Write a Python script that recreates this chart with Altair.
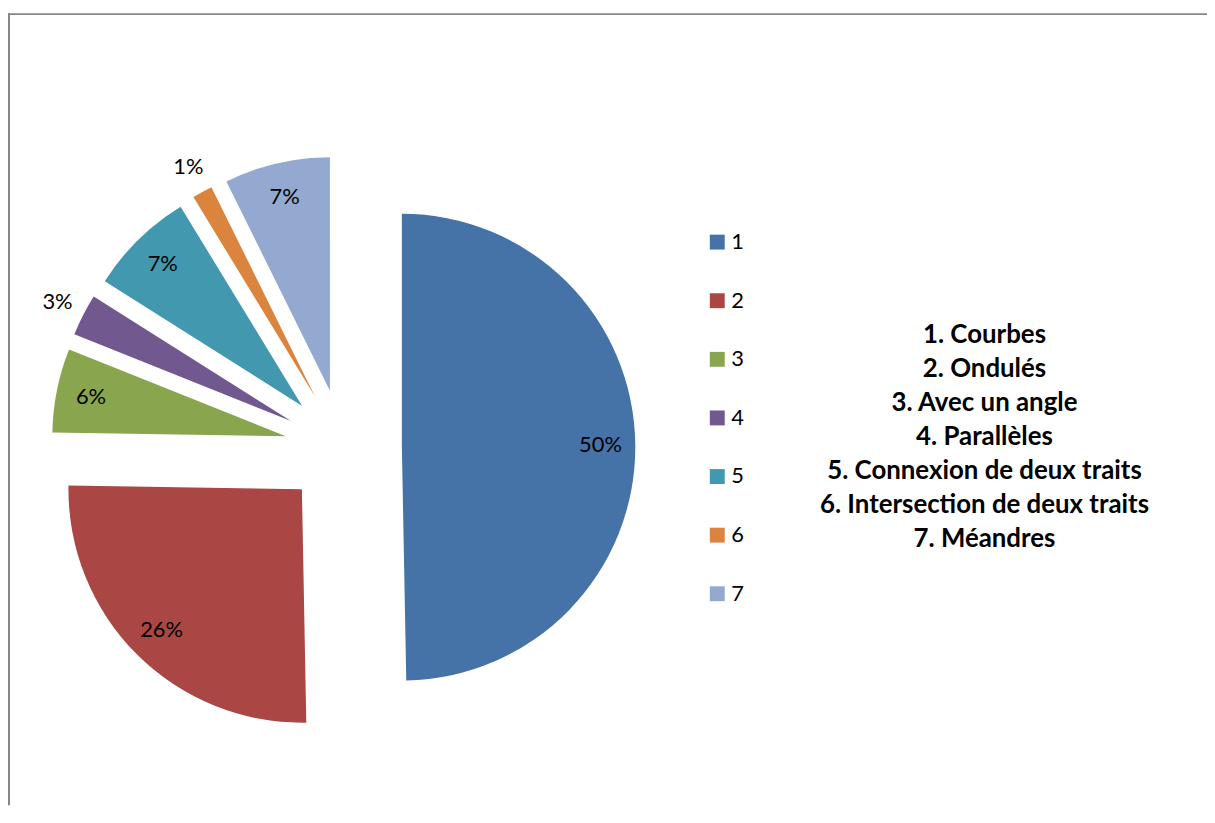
import altair as alt
import pandas as pd

# ---- data (shares in %) ----
categories = ["1", "2", "3", "4", "5", "6", "7"]
values = [49.6, 25.5, 5.8, 2.9, 7.3, 1.4, 7.3]
names = [
    "1. Courbes",
    "2. Ondulés",
    "3. Avec un angle",
    "4. Parallèles",
    "5. Connexion de deux traits",
    "6. Intersection de deux traits",
    "7. Méandres",
]
colors = ["#4572A7", "#AA4643", "#89A54E", "#71588F", "#4198AF", "#DB843D", "#93A9CF"]

# ---- layout / style constants (pixels inside the chart) ----
W, H = 1207, 800
CX, CY = 337.5, 440.0      # pie centre
R = 235                     # pie radius
EXPLODE = 59                # slice explosion distance
R_IN = 200                  # label radius inside slices
R_OUT = 264                 # label radius for small slices
FONT = "Lato"

df = pd.DataFrame({"cat": categories, "value": values, "order": list(range(len(values)))})

base = (
    alt.Chart(df)
    .transform_joinaggregate(total="sum(value)")
    .transform_window(cum="sum(value)", sort=[alt.SortField("order")], frame=[None, 0])
    .transform_calculate(
        start="2*PI*(datum.cum - datum.value)/datum.total",
        end="2*PI*datum.cum/datum.total",
    )
    .transform_calculate(mid="(datum.start + datum.end)/2")
    .transform_calculate(
        cx=f"{CX} + {EXPLODE}*sin(datum.mid)",
        cy=f"{CY} - {EXPLODE}*cos(datum.mid)",
        pct="round(100*datum.value/datum.total) + '%'",
        lr=f"datum.value/datum.total < 0.05 ? {R_OUT} : {R_IN}",
    )
    .transform_calculate(
        lx="datum.cx + datum.lr*sin(datum.mid)",
        ly="datum.cy - datum.lr*cos(datum.mid)",
    )
)

pie = base.mark_arc(outerRadius=R, strokeWidth=0).encode(
    x=alt.X("cx:Q", scale=None, axis=None, stack=None),
    y=alt.Y("cy:Q", scale=None, axis=None, stack=None),
    theta=alt.Theta("start:Q", scale=None, stack=None),
    theta2="end:Q",
    color=alt.Color(
        "cat:N",
        scale=alt.Scale(domain=categories, range=colors),
        legend=alt.Legend(
            title=None,
            orient="none",
            legendX=703,
            legendY=222,
            symbolType="square",
            symbolSize=225,
            symbolStrokeWidth=0,
            symbolOpacity=1,
            labelFontSize=22,
            labelFont=FONT,
            labelColor="#000000",
            labelOffset=3,
            rowPadding=37,
            padding=0,
        ),
    ),
)

labels = base.mark_text(font=FONT, fontSize=22, color="#000000", align="center", baseline="middle").encode(
    x=alt.X("lx:Q", scale=None, axis=None),
    y=alt.Y("ly:Q", scale=None, axis=None),
    text="pct:N",
)

names_block = (
    alt.Chart(pd.DataFrame({"txt": ["\n".join(names)]}))
    .mark_text(
        font=FONT,
        fontSize=26,
        fontWeight="bold",
        color="#000000",
        align="center",
        baseline="middle",
        lineBreak="\n",
        lineHeight=34.2,
    )
    .encode(x=alt.value(983), y=alt.value(327), text="txt:N")
)

frame_data = alt.Data(values=[{"k": 0}])
top_border = alt.Chart(frame_data).mark_rule(color="#878787", strokeWidth=2).encode(
    x=alt.value(0), x2=alt.value(W), y=alt.value(3.5)
)
left_border = alt.Chart(frame_data).mark_rule(color="#878787", strokeWidth=2).encode(
    x=alt.value(1), y=alt.value(2.5), y2=alt.value(H)
)

chart = (
    alt.layer(top_border, left_border, pie, labels, names_block)
    .properties(width=W, height=H, padding=0, autosize=alt.AutoSizeParams(type="none"))
    .configure_view(stroke=None)
)

chart.save("out.html", embed_options={"renderer": "svg", "actions": False})
